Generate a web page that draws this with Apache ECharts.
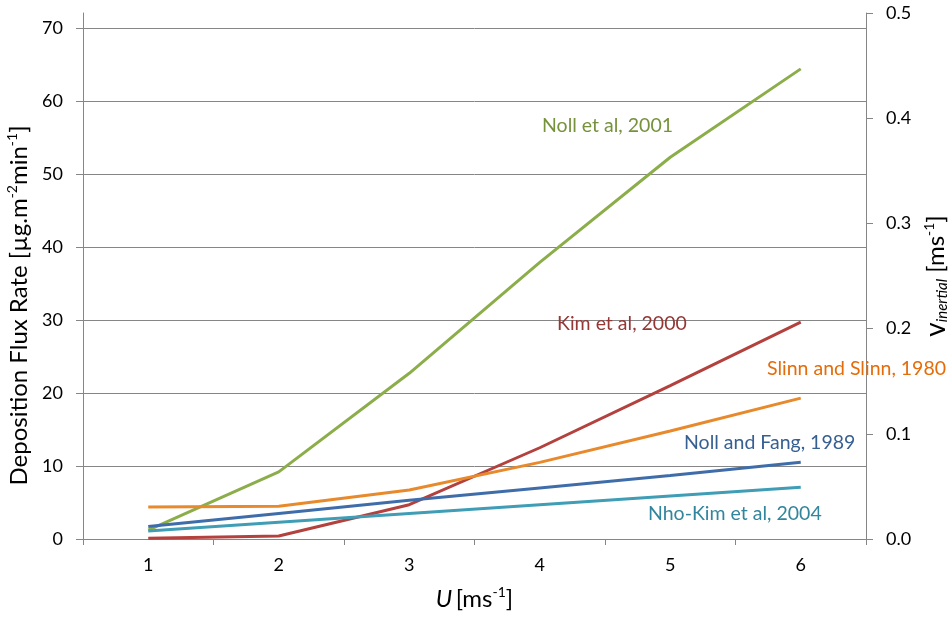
<!DOCTYPE html>
<html>
<head>
<meta charset="utf-8">
<script src="https://cdn.jsdelivr.net/npm/echarts@6/dist/echarts.min.js"></script>
<style>
  html, body { margin: 0; padding: 0; background: #fff; }
  #chart { width: 949px; height: 617px; }
</style>
</head>
<body>
<div id="chart"></div>
<script>
// Wind speed categories (m/s)
const windSpeeds = ['1', '2', '3', '4', '5', '6'];

// Deposition flux rate per model (µg m^-2 min^-1)
const nollEtAl2001 = [1.2, 9.2, 22.7, 37.9, 52.3, 64.4];
const kimEtAl2000 = [0.1, 0.4, 4.7, 12.5, 21.0, 29.7];
const slinnAndSlinn1980 = [4.4, 4.5, 6.7, 10.5, 14.8, 19.3];
const nollAndFang1989 = [1.7, 3.5, 5.3, 7.0, 8.7, 10.5];
const nhoKimEtAl2004 = [1.1, 2.3, 3.5, 4.7, 5.9, 7.1];

// Axis ranges
const fluxAxis = { min: 0, max: 70, interval: 10 };
const velocityAxis = { min: 0, max: 0.5, interval: 0.1 };

const FONT = 'Lato, "Noto Sans", sans-serif';
const GRID_GREY = '#868686';

const models = [
  { name: 'Noll et al, 2001', data: nollEtAl2001, line: '#8CAE4A', text: '#76923C', x: 542, y: 128 },
  { name: 'Kim et al, 2000', data: kimEtAl2000, line: '#B3413E', text: '#953735', x: 557, y: 326 },
  { name: 'Slinn and Slinn, 1980', data: slinnAndSlinn1980, line: '#E8892B', text: '#E46C0A', x: 767, y: 371 },
  { name: 'Noll and Fang, 1989', data: nollAndFang1989, line: '#3F6DAA', text: '#376092', x: 684, y: 445 },
  { name: 'Nho-Kim et al, 2004', data: nhoKimEtAl2004, line: '#3F9DB6', text: '#31859C', x: 648, y: 516 }
];

const supStyle = { fontSize: 14, fontFamily: FONT, color: '#000', verticalAlign: 'top', lineHeight: 28 };
const subStyle = { fontSize: 15, fontFamily: FONT, color: '#000', fontStyle: 'italic', verticalAlign: 'bottom', lineHeight: 28 };
const baseStyle = { fontSize: 24, fontFamily: FONT, color: '#000', lineHeight: 28 };

const chart = echarts.init(document.getElementById('chart'), null, { renderer: 'canvas' });

chart.setOption({
  animation: false,
  backgroundColor: '#fff',
  grid: [
    { left: 83, right: 83, top: 28, bottom: 78, containLabel: false, outerBoundsMode: 'none' },
    { left: 83, right: 83, top: 13, bottom: 78, containLabel: false, outerBoundsMode: 'none' }
  ],
  xAxis: [
    {
      gridIndex: 0,
      type: 'category',
      data: windSpeeds,
      boundaryGap: true,
      axisLine: { show: true, lineStyle: { color: GRID_GREY, width: 1 } },
      axisTick: { show: true, length: 6, lineStyle: { color: GRID_GREY } },
      axisLabel: { margin: 17, fontSize: 18, color: '#000', fontFamily: FONT },
      splitLine: { show: false },
      name: '{it|U} {b|[ms}{sup|-1}{b|]}',
      nameLocation: 'middle',
      nameGap: 46,
      nameTextStyle: {
        rich: {
          it: Object.assign({}, baseStyle, { fontStyle: 'italic' }),
          b: baseStyle,
          sup: supStyle
        }
      }
    },
    { gridIndex: 1, type: 'category', data: windSpeeds, show: false }
  ],
  yAxis: [
    {
      gridIndex: 0,
      type: 'value',
      min: fluxAxis.min,
      max: fluxAxis.max,
      interval: fluxAxis.interval,
      axisLine: { show: false },
      axisTick: { show: true, length: 7, lineStyle: { color: GRID_GREY } },
      axisLabel: { margin: 20, fontSize: 18, color: '#000', fontFamily: FONT },
      splitLine: { show: true, lineStyle: { color: GRID_GREY, width: 1 } },
      name: '{b|Deposition Flux Rate [µg.m}{sup|-2}{b|min}{sup|-1}{b|]}',
      nameLocation: 'middle',
      nameGap: 35,
      nameRotate: 90,
      nameTextStyle: {
        padding: [0, 44, 0, 0],
        rich: { b: baseStyle, sup: supStyle }
      }
    },
    {
      gridIndex: 1,
      type: 'value',
      position: 'left',
      min: 0,
      max: 1,
      axisLine: { show: true, lineStyle: { color: GRID_GREY, width: 1 } },
      axisTick: { show: false },
      axisLabel: { show: false },
      splitLine: { show: false }
    },
    {
      gridIndex: 1,
      type: 'value',
      position: 'right',
      min: velocityAxis.min,
      max: velocityAxis.max,
      interval: velocityAxis.interval,
      axisLine: { show: true, lineStyle: { color: GRID_GREY, width: 1 } },
      axisTick: { show: true, length: 7, lineStyle: { color: GRID_GREY } },
      axisLabel: {
        margin: 20, fontSize: 18, color: '#000', fontFamily: FONT,
        formatter: v => v.toFixed(1)
      },
      splitLine: { show: false },
      name: '{v|v}{sub|inertial}{b| [ms}{sup|-1}{b|]}',
      nameLocation: 'middle',
      nameGap: 47,
      nameRotate: 90,
      nameTextStyle: {
        rich: {
          v: Object.assign({}, baseStyle, { fontSize: 28 }),
          b: baseStyle,
          sub: subStyle,
          sup: supStyle
        }
      }
    }
  ],
  series: models.map(m => ({
    name: m.name,
    type: 'line',
    xAxisIndex: 0,
    yAxisIndex: 0,
    data: m.data,
    symbol: 'none',
    lineStyle: { color: m.line, width: 3 },
    z: 3
  })),
  graphic: models.map(m => ({
    type: 'text',
    left: m.x,
    top: m.y - 12,
    z: 10,
    style: {
      text: m.name,
      fill: m.text,
      font: '19.5px ' + FONT
    }
  }))
});
</script>
</body>
</html>
